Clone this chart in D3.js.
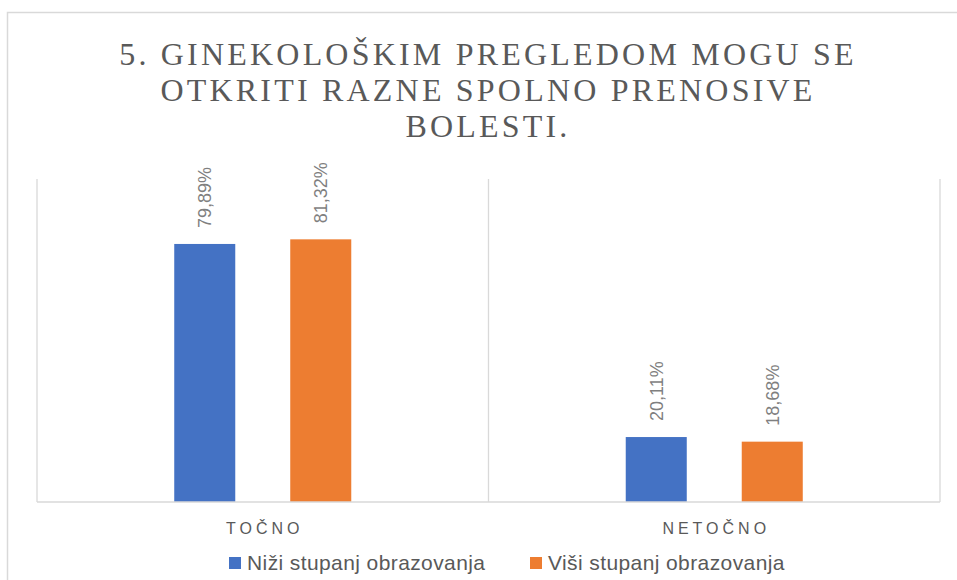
<!DOCTYPE html>
<html>
<head>
<meta charset="utf-8">
<script src="https://cdn.jsdelivr.net/npm/d3@7"></script>
<style>
  body { margin: 0; background: #fff; }
  svg { display: block; }
</style>
</head>
<body>
<div id="chart"></div>
<script>
// Podaci
var categories = ["TOČNO", "NETOČNO"];
var seriesNames = ["Niži stupanj obrazovanja", "Viši stupanj obrazovanja"];
var nizi = [79.89, 20.11];
var visi = [81.32, 18.68];
var titleLines = ["5. GINEKOLOŠKIM PREGLEDOM MOGU SE", "OTKRITI RAZNE SPOLNO PRENOSIVE", "BOLESTI."];

var width = 957, height = 580;
var colors = ["#4472c4", "#ed7d31"];

var svg = d3.select("#chart").append("svg")
    .attr("width", width)
    .attr("height", height);

// okvir grafikona
svg.append("rect")
    .attr("x", 7.5).attr("y", 12.5)
    .attr("width", 980).attr("height", 600)
    .attr("fill", "#fff")
    .attr("stroke", "#d9d9d9")
    .attr("stroke-width", 1.5);

// naslov
svg.append("g").selectAll("text")
    .data(titleLines)
    .enter().append("text")
    .attr("x", 488)
    .attr("y", function (d, i) { return 65 + i * 36; })
    .attr("text-anchor", "middle")
    .style("font-family", "'Liberation Serif', 'Times New Roman', serif")
    .style("font-size", "32px")
    .style("letter-spacing", "3.2px")
    .style("fill", "#595959")
    .text(function (d) { return d; });

var plot = { left: 37, right: 940, top: 179, bottom: 502 };

var x = d3.scaleBand()
    .domain(categories)
    .range([plot.left, plot.right])
    .padding(0);

var xInner = d3.scaleBand()
    .domain(seriesNames)
    .range([0, x.bandwidth()])
    .paddingInner(0.474)
    .paddingOuter(1.183);

var y = d3.scaleLinear()
    .domain([0, 100])
    .range([plot.bottom, plot.top]);

// vertikalne linije mreze (granice kategorija)
var bounds = [plot.left].concat(categories.map(function (c) { return x(c) + x.bandwidth(); }));
svg.append("g").selectAll("line")
    .data(bounds)
    .enter().append("line")
    .attr("x1", function (d) { return d; })
    .attr("x2", function (d) { return d; })
    .attr("y1", plot.top)
    .attr("y2", plot.bottom)
    .attr("stroke", "#d9d9d9")
    .attr("stroke-width", 1.3);

var data = [];
categories.forEach(function (c, i) {
    data.push({ cat: c, serie: seriesNames[0], value: nizi[i], color: colors[0] });
    data.push({ cat: c, serie: seriesNames[1], value: visi[i], color: colors[1] });
});

// stupci
svg.append("g").selectAll("rect")
    .data(data)
    .enter().append("rect")
    .attr("x", function (d) { return x(d.cat) + xInner(d.serie); })
    .attr("y", function (d) { return y(d.value); })
    .attr("width", xInner.bandwidth())
    .attr("height", function (d) { return y(0) - y(d.value); })
    .attr("fill", function (d) { return d.color; });

// os x
svg.append("line")
    .attr("x1", plot.left).attr("x2", plot.right)
    .attr("y1", plot.bottom).attr("y2", plot.bottom)
    .attr("stroke", "#d9d9d9")
    .attr("stroke-width", 1.3);

// oznake vrijednosti (rotirane)
svg.append("g").selectAll("text")
    .data(data)
    .enter().append("text")
    .attr("transform", function (d) {
        var cx = x(d.cat) + xInner(d.serie) + xInner.bandwidth() / 2;
        return "translate(" + cx + "," + (y(d.value) - 16) + ") rotate(-90)";
    })
    .attr("dy", "0.35em")
    .style("font-family", "'Liberation Sans', Arial, sans-serif")
    .style("font-size", "18px")
    .style("fill", "#7f7f7f")
    .text(function (d) { return d.value.toFixed(2).replace(".", ",") + "%"; });

// nazivi kategorija
svg.append("g").selectAll("text")
    .data(categories)
    .enter().append("text")
    .attr("x", function (d) { return x(d) + x.bandwidth() / 2 + 2; })
    .attr("y", 534)
    .attr("text-anchor", "middle")
    .style("font-family", "'Liberation Sans', Arial, sans-serif")
    .style("font-size", "16px")
    .style("letter-spacing", "4px")
    .style("fill", "#595959")
    .text(function (d) { return d; });

// legenda
var legendX = [229, 530];
var legend = svg.append("g").selectAll("g")
    .data(seriesNames)
    .enter().append("g")
    .attr("transform", function (d, i) { return "translate(" + legendX[i] + ",557)"; });

legend.append("rect")
    .attr("width", 12).attr("height", 12)
    .attr("fill", function (d, i) { return colors[i]; });

legend.append("text")
    .attr("x", 18)
    .attr("y", 12.5)
    .style("font-family", "'Liberation Sans', Arial, sans-serif")
    .style("font-size", "21px")
    .style("letter-spacing", "0.4px")
    .style("fill", "#595959")
    .text(function (d) { return d; });
</script>
</body>
</html>
